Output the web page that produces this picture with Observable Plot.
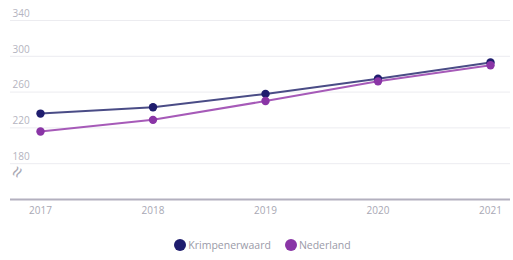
<!DOCTYPE html>
<html>
<head>
<meta charset="utf-8">
<script src="https://cdn.jsdelivr.net/npm/d3@7"></script>
<script src="https://cdn.jsdelivr.net/npm/@observablehq/plot@0.6"></script>
<style>
  html, body { margin: 0; padding: 0; background: #fff; }
  body { width: 513px; height: 260px; overflow: hidden; font-family: "Open Sans", sans-serif; }
  #legend { display: flex; justify-content: center; align-items: center; gap: 14px; height: 30px; font-size: 10.5px; color: #9a9aa8; margin-left: 12px; }
  #legend span.item { display: flex; align-items: center; gap: 2px; }
  #legend span.sw { width: 12px; height: 12px; border-radius: 50%; display: inline-block; }
</style>
</head>
<body>
<div id="chart"></div>
<div id="legend"></div>
<script>
const years = [2017, 2018, 2019, 2020, 2021];
const krimpenerwaard = [236, 243, 258, 275, 293];
const nederland = [216, 229, 250, 272, 290];
const seriesNames = ["Krimpenerwaard", "Nederland"];
const seriesColors = ["#1f1d6e", "#8a35a6"];
const lineColors = ["#4a4c86", "#a65ab8"];
const yTicks = [180, 220, 260, 300, 340];

const data = [
  ...years.map((y, i) => ({year: y, value: krimpenerwaard[i], series: seriesNames[0]})),
  ...years.map((y, i) => ({year: y, value: nederland[i], series: seriesNames[1]}))
];

const chart = Plot.plot({
  width: 513,
  height: 230,
  marginLeft: 10,
  marginRight: 3,
  marginTop: 20,
  marginBottom: 31,
  style: {fontFamily: "'Open Sans', sans-serif", fontSize: "10px", color: "#a8a8b4", background: "#fff"},
  x: {domain: [2017, 2021], range: [40, 490], ticks: years, tickFormat: d => String(d)},
  y: {domain: [140, 340]},
  color: {domain: seriesNames, range: seriesColors},
  marks: [
    Plot.ruleY(yTicks, {stroke: "#ececf0", strokeWidth: 1}),
    Plot.text(yTicks, {y: d => d, frameAnchor: "left", dx: 2, dy: -7, text: d => String(d), textAnchor: "start", fill: "#b4b4c0", fontSize: 10}),
    Plot.text(["≈"], {frameAnchor: "bottom-left", dx: 10, dy: -19, text: d => d, rotate: -60, fill: "#a8a8b4", fontSize: 20}),
    Plot.ruleY([140], {stroke: "#b3b0bf", strokeWidth: 2}),
    Plot.axisX({ticks: years, tickSize: 0, tickPadding: 7, tickFormat: d => String(d), fill: "#a8a8b4", label: null}),
    Plot.axisY({ticks: [], label: null}),
    Plot.line(data, {x: "year", y: "value", z: "series", stroke: d => lineColors[seriesNames.indexOf(d.series)], strokeWidth: 2}),
    Plot.dot(data, {x: "year", y: "value", fill: "series", r: 4.2})
  ]
});
document.getElementById("chart").appendChild(chart);

const legend = document.getElementById("legend");
seriesNames.forEach((n, i) => {
  const item = document.createElement("span");
  item.className = "item";
  const sw = document.createElement("span");
  sw.className = "sw";
  sw.style.background = seriesColors[i];
  const t = document.createElement("span");
  t.textContent = n;
  item.appendChild(sw);
  item.appendChild(t);
  legend.appendChild(item);
});
</script>
</body>
</html>
